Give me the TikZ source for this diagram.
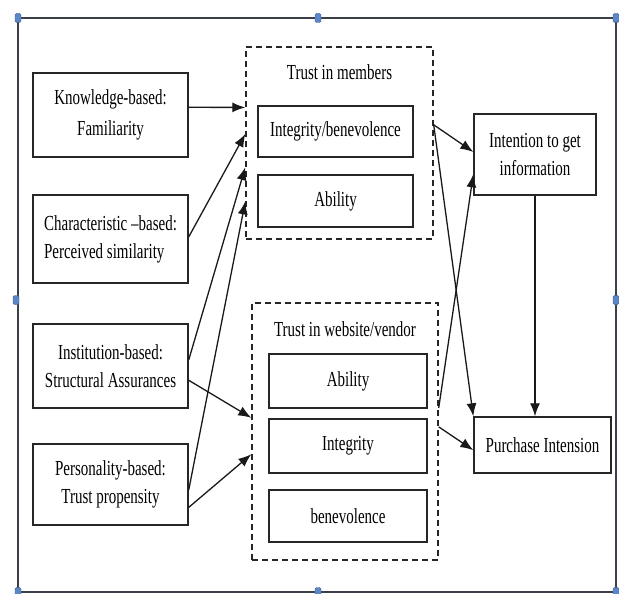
\documentclass[tikz,border=0pt]{standalone}
\usepackage{fontspec}
\setmainfont[FakeStretch=0.7]{Liberation Serif}
\usetikzlibrary{arrows.meta,calc}
\definecolor{handleblue}{HTML}{5B87C8}
\definecolor{framegray}{HTML}{3A3F48}
\begin{document}
\begin{tikzpicture}[x=1bp,y=-1bp,
  every node/.style={font=\fontsize{21.5}{28}\selectfont, inner sep=0pt},
  box/.style={draw=black!85, line width=1.4bp, rectangle},
  group/.style={draw=black!85, line width=1.4bp, dash pattern=on 6bp off 4bp, rectangle},
  link/.style={line width=1.3bp, draw=black!90, -{Latex[length=13bp,width=10bp]}},
  handle/.style={fill=handleblue, draw=handleblue!70!black, line width=0.4bp,
    rounded corners=1.5bp, minimum width=6bp, minimum height=9bp},
]
\useasboundingbox (0,0) rectangle (619,594);

% selection frame around the figure
\draw[framegray, line width=1.1bp] (18,18) rectangle (616,592);
\foreach \px/\py/\nm in {18/18/ha,318/18/hb,616/18/hc,16/300/hd,616/300/he,18/592/hf,318/592/hg,616/592/hh}
  \node[handle] (\nm) at (\px,\py) {};

% antecedents of trust
\node[box, minimum width=155bp, minimum height=84bp, align=center] (know) at (110.5,115)
  {Knowledge-based:\\[3bp]Familiarity};
\node[box, minimum width=155bp, minimum height=88bp, align=left] (char) at (110.5,239)
  {Characteristic \textendash based:\\Perceived similarity};
\node[box, minimum width=155bp, minimum height=84bp, align=center] (inst) at (110.5,366)
  {Institution-based:\\Structural Assurances};
\node[box, minimum width=155bp, minimum height=81bp, align=center] (pers) at (110.5,484.5)
  {Personality-based:\\Trust propensity};

% trust in members
\node[group, minimum width=187bp, minimum height=192bp] (tm) at (339.5,143) {};
\node (tmtitle) at (339.5,72) {Trust in members};
\node[box, minimum width=155bp, minimum height=51bp] (tmib) at (335.5,131.5) {Integrity/benevolence};
\node[box, minimum width=155bp, minimum height=52bp] (tmab) at (335.5,201) {Ability};

% trust in website / vendor
\node[group, minimum width=186bp, minimum height=257bp] (tw) at (345,431.5) {};
\node (twtitle) at (345,329) {Trust in website/vendor};
\node[box, minimum width=158bp, minimum height=54bp] (twab) at (348,381) {Ability};
\node[box, minimum width=158bp, minimum height=54bp] (twin) at (348,446) {Integrity};
\node[box, minimum width=158bp, minimum height=52bp] (twbe) at (348,516) {benevolence};

% outcomes
\node[box, minimum width=122bp, minimum height=81bp, align=center] (intent) at (535,154.5)
  {Intention to get\\information};
\node[box, minimum width=137bp, minimum height=56bp] (purch) at (542.5,445) {Purchase Intension};

% paths into trust in members
\draw[link] ($(know.north east)!0.41!(know.south east)$) -- ($(tm.north west)!0.316!(tm.south west)$);
\draw[link] ($(char.north east)!0.477!(char.south east)$) -- ($(tm.north west)!0.453!(tm.south west)$);
\draw[link] ($(inst.north east)!0.43!(inst.south east)$) -- ($(tm.north west)!0.625!(tm.south west)$);
\draw[link] ($(pers.north east)!0.568!(pers.south east)$) -- ($(tm.north west)!0.802!(tm.south west)$);

% paths into trust in website/vendor
\draw[link] ($(inst.north east)!0.667!(inst.south east)$) -- ($(tw.north west)!0.447!(tw.south west)$);
\draw[link] ($(pers.north east)!0.778!(pers.south east)$) -- ($(tw.north west)!0.588!(tw.south west)$);

% paths into the intentions
\draw[link] ($(tm.north east)!0.406!(tm.south east)$) -- ($(intent.north west)!0.469!(intent.south west)$);
\draw[link] ($(tm.north east)!0.406!(tm.south east)$) -- (purch.north west);
\draw[link] ($(tw.north east)!0.409!(tw.south east)$) -- ($(intent.north west)!0.74!(intent.south west)$);
\draw[link] ($(tw.north east)!0.482!(tw.south east)$) -- ($(purch.north west)!0.59!(purch.south west)$);
\draw[link] (intent.south) -- (intent.south |- purch.north);
\end{tikzpicture}
\end{document}
